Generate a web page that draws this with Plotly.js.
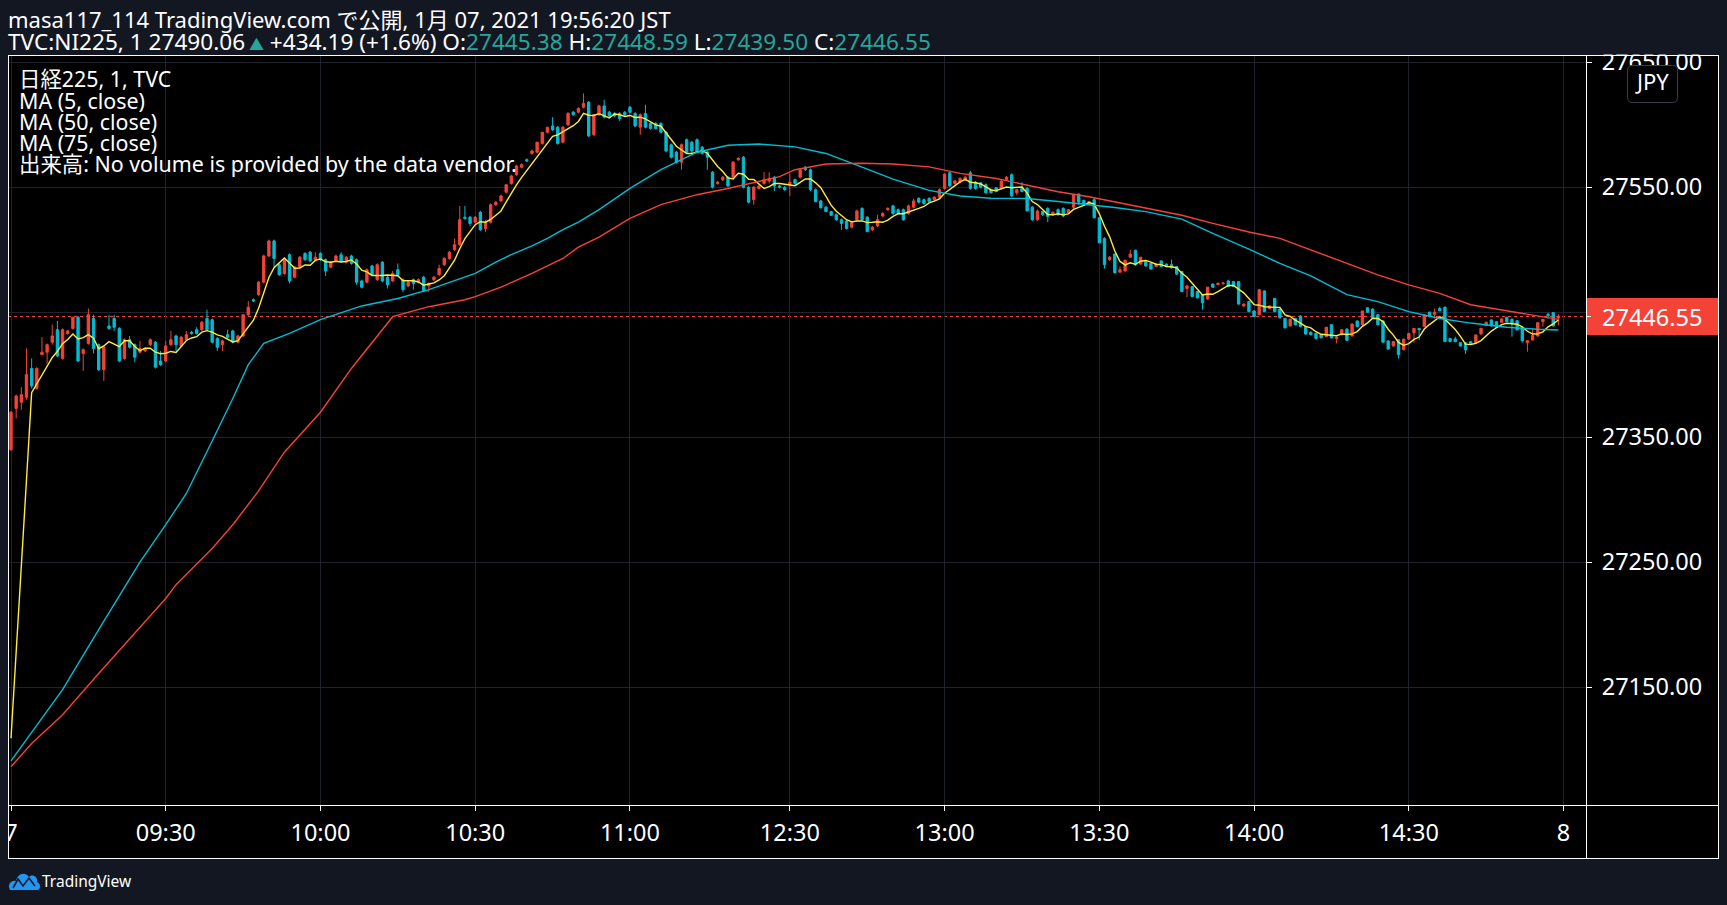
<!DOCTYPE html>
<html>
<head>
<meta charset="utf-8">
<script src="https://cdn.plot.ly/plotly-3.0.1.min.js"></script>
<style>html,body{margin:0;padding:0;background:#131722;overflow:hidden}</style>
</head>
<body>
<div id="chart" style="width:1727px;height:905px"></div>
<script>
// ---------------- DATA (1-minute bars, 日経225 TVC, 2021-01-07) ----------------
const timeTickIdx = [0, 30, 60, 90, 120, 151, 181, 211, 241, 271, 301];
const timeTickLabels = ['7', '09:30', '10:00', '10:30', '11:00', '12:30', '13:00', '13:30', '14:00', '14:30', '8'];
const priceTickVals = [27150, 27250, 27350, 27450, 27550, 27650];
const priceTickLabels = ['27150.00', '27250.00', '27350.00', '', '27550.00', '27650.00'];

const openPrices = [
27340,27373,27378,27382,27405,27389,27416,27418,27426,27436,
27413,27433,27437,27446,27417,27425,27445,27424,27404,27439,
27445,27437,27413,27428,27424,27418,27419,27424,27426,27411,
27411,27424,27431,27423,27428,27434,27436,27436,27445,27444,
27429,27424,27432,27435,27426,27431,27448,27460,27464,27474,
27495,27507,27488,27481,27496,27478,27486,27497,27498,27492,
27497,27492,27486,27491,27496,27490,27495,27492,27475,27474,
27487,27476,27490,27478,27475,27484,27476,27471,27476,27474,
27478,27471,27476,27480,27488,27493,27500,27504,27526,27526,
27522,27530,27517,27522,27536,27539,27546,27553,27560,27566,
27572,27577,27578,27585,27594,27599,27598,27586,27600,27610,
27610,27614,27618,27592,27608,27615,27610,27609,27609,27610,
27614,27609,27598,27609,27601,27601,27601,27594,27584,27578,
27570,27588,27586,27588,27582,27578,27562,27553,27556,27558,
27558,27572,27574,27550,27540,27549,27553,27555,27558,27551,
27550,27552,27556,27558,27566,27564,27548,27539,27534,27530.5,
27528,27524,27523,27518,27524,27533,27526,27516,27519,27527,
27532,27535,27532,27532,27529,27534,27541,27540,27541,27540,
27542,27549,27561.5,27553,27554,27556,27561.5,27554,27553.5,27552,
27548,27549.5,27549,27556,27560,27545.5,27549,27549,27534,27524,
27530.5,27533,27528,27532,27533,27529.5,27534,27544.5,27539.5,27537,
27540,27525.5,27509,27492,27496.5,27482,27483,27494,27499.5,27488.5,
27490.5,27489,27486.5,27491,27488.5,27488,27486.5,27482.5,27469,27470.5,
27466.5,27464,27460.5,27472.5,27472,27472.8,27475,27474.5,27474.5,27455,
27458.5,27451,27448,27467,27453,27461,27452.5,27445,27439,27445,
27447,27438.5,27434,27433,27432,27430.5,27440,27429,27432,27436.5,
27431,27443,27440,27453.5,27452.5,27448,27443,27427,27423,27428,
27420,27428.5,27433.5,27437,27438.5,27450,27448.3,27453,27454,27429,
27428.6,27425.6,27425.6,27426.4,27425.6,27432.6,27439.2,27443.8,27442.4,27441.9,
27445.9,27444.3,27443.2,27437.9,27425.6,27427.8,27431,27442.4,27448.3,27449.6,
27445.38];

const highPrices = [
27371,27384,27390,27421,27413,27406,27430,27425,27440,27443,
27437,27436,27446,27447,27421,27453,27448,27425,27423,27448,
27448,27438,27429,27431,27425,27427,27422,27429,27427,27419,
27427,27435,27432,27431,27435,27435,27438,27443,27452,27445,
27430,27428,27436,27436,27432,27448,27459,27461,27475,27496,
27508,27508,27489,27493,27497,27487,27495,27498,27499,27498,
27498,27493,27491,27496,27498,27495,27496,27493,27476,27485,
27488,27489,27491,27479,27483,27489,27477,27475,27477,27477,
27479,27474,27479,27488,27494,27499,27509,27535,27535,27527,
27527,27531,27524,27537,27539,27544,27552,27560,27568,27569,
27573,27580,27586,27594,27598,27606,27599,27599,27610,27611,
27614,27625,27619,27608,27616,27620,27611,27610,27610,27611,
27615,27610,27609,27616,27602,27602,27602,27595,27585,27579,
27585,27589,27587,27589,27583,27579,27563,27555,27559,27559,
27571,27574,27575,27551,27551,27552,27562,27562,27559,27552,
27551,27561,27557,27565,27567,27565,27549,27540,27535,27531,
27529,27525,27524,27523,27532,27534,27527,27519,27528,27530,
27534,27536,27533,27533,27536,27541,27542,27541,27542,27543,
27549,27561,27562,27556,27558,27559,27563,27555,27554,27553,
27549,27550,27555.5,27559,27561,27548.5,27554,27550,27535,27532,
27531,27534,27530.5,27533,27534,27532.5,27544,27545,27540,27539,
27541,27526,27510,27495,27497,27486.5,27492,27500,27500,27494,
27491,27489.5,27489,27491.5,27489,27492,27487,27483,27472,27471,
27467,27464.5,27470,27473,27474,27474,27476,27475,27475,27457,
27459,27451.5,27468.5,27467.5,27455.5,27461.5,27453,27445.5,27444.5,27445.5,
27447.5,27439,27434.5,27433.5,27432.5,27438,27440.5,27430.5,27436,27437,
27441,27443.5,27451,27454,27453,27448.5,27443.5,27427.5,27426.5,27428.5,
27428.5,27433.5,27437.5,27437.5,27448,27450.5,27453,27454.5,27454.5,27429.5,
27430.4,27426,27426,27427,27432,27437.5,27442.5,27444.5,27443,27445,
27446.5,27445,27443.5,27438.5,27427.5,27437.1,27441.8,27444.5,27449.6,27450,
27448.59];

const lowPrices = [
27339,27365,27372,27380,27389,27388,27416,27409,27424,27414,
27412,27432,27436,27410,27403,27424,27417,27403,27395,27436,
27435,27410,27412,27421,27410,27417,27418,27423,27405,27407,
27410,27423,27419,27422,27427,27432,27432,27435,27435,27425,
27419,27419,27429,27425,27425,27430,27447,27458,27463,27473,
27494,27486,27479,27480,27473,27477,27485,27491,27490,27491,
27491,27479,27485,27490,27490,27489,27488,27472,27469,27473,
27479,27475,27474,27469,27474,27479,27466,27470,27468,27473,
27466,27466,27475,27479,27487,27492,27499,27503,27524,27519,
27521,27515,27514,27521,27535,27538,27545,27552,27559,27565,
27570,27576,27577,27584,27593,27595,27584,27585,27599,27607,
27609,27613,27590,27591,27607,27605,27606,27606,27603,27607,
27609,27598,27592,27597,27596,27596,27593,27578,27573,27569,
27564,27577,27577,27577,27576,27564,27549,27552,27555,27550,
27557,27571,27549,27537,27536,27548,27552,27553,27547,27549,
27547,27543,27552,27557,27563,27547,27538,27533,27530,27527,
27523,27516,27516,27517,27523,27523,27514,27515,27518,27526,
27531,27528,27528,27523,27528,27533,27537,27536,27538,27539,
27541,27548,27550,27552,27553,27555,27548,27548,27549,27545,
27545,27546,27548,27555,27542,27543.5,27546,27531,27523,27523,
27527,27522,27527,27527,27526,27529,27533,27536,27535,27536,
27525,27505,27485,27491,27481,27481.5,27482.5,27493.5,27487,27488,
27486.5,27484,27486,27486,27486,27485,27480,27466,27462,27462,
27461,27452,27460,27469.5,27471.5,27472,27470,27470,27456,27454.5,
27450,27446,27447.5,27450,27452.5,27450,27445,27437,27438.5,27439.5,
27438,27432,27431.5,27428,27429,27430,27429,27425,27431.5,27427,
27430.5,27438,27439.5,27449.5,27445,27439.5,27425.5,27420,27422.5,27413,
27419.5,27428,27425.5,27427.8,27438,27446,27445,27451,27426,27426,
27426,27422.5,27416.6,27424,27425,27432,27439,27438.5,27437.5,27441.5,
27442,27430.4,27435.5,27425.6,27418.4,27427.5,27430.5,27438.4,27445.1,27438.5,
27439.50];

const closePrices = [
27370,27383,27384,27400,27391,27405,27418,27424,27431,27415,
27436,27435,27446,27411,27420,27448,27421,27404,27422,27437,
27438,27411,27428,27422,27414,27421,27421,27428,27406,27408,
27423,27428,27424,27430,27432,27433,27433,27442,27436,27426,
27422,27427,27430,27426,27431,27448,27454,27459,27474,27495,
27507,27493,27480,27492,27475,27486,27494,27492,27491,27494,
27492,27483,27490,27495,27491,27494,27489,27474,27470,27484,
27480,27488,27475,27472,27481,27480,27468,27474,27473,27476,
27467,27473,27478,27485,27493,27498,27504,27524,27525,27521,
27526,27516,27522,27536,27538,27543,27552,27559,27567,27568,
27571,27579,27586,27594,27598,27596,27585,27598,27609,27608,
27613,27617,27591,27608,27615,27606,27607,27607,27605,27608,
27610,27599,27608,27598,27597,27597,27594,27579,27574,27570,
27584,27578,27579,27578,27577,27574,27550,27554,27558,27551,
27570,27573,27550,27538,27550,27551,27556,27557,27551,27550,
27548,27554,27553,27564,27564,27548,27538.5,27533.5,27530.5,27527.5,
27524,27521,27517,27522,27531,27524,27514.5,27518,27524,27529,
27533,27529,27529,27524,27535,27539,27538,27537,27538.5,27542,
27548,27560.5,27551,27555,27557,27558,27549,27549,27550,27545.5,
27545.5,27546.5,27555,27558,27543,27548,27546.5,27531,27524,27531,
27528,27526.5,27530,27528,27527,27532,27544,27538,27536,27538.5,
27525.5,27505.5,27488,27494,27481.5,27484,27491.5,27496.5,27488,27494,
27487,27484.5,27488.5,27486.5,27486.5,27485.5,27480.5,27466.5,27471,27462.5,
27461.5,27457.5,27470,27470,27473,27473.3,27470.5,27470.5,27456.5,27456.5,
27450.5,27446.5,27468,27450.5,27455,27450.5,27445.5,27437.5,27444.5,27440,
27438.5,27432.5,27432,27429,27429.5,27438,27429.5,27430,27436,27427.5,
27440.5,27438.5,27451,27450,27445.5,27440,27426,27420.5,27426.5,27416,
27428.5,27433,27437,27436,27448,27446.5,27450,27451.2,27426.5,27426.5,
27426.4,27423,27419.8,27424.6,27431.8,27437.1,27441.9,27439,27437.9,27444.6,
27442.4,27441.1,27435.8,27427.2,27427.2,27431.3,27441.6,27444.3,27447.2,27439,
27446.55];

// closes of the last minutes of the previous session (used by MA 5 at the open)
const prevDayCloses = [27050, 27040, 27045, 27041];

// MA (50, close) and MA (75, close) at bar positions
const ma50Idx = [0,10,17,25,30,34,39,43,46,49,54,60,68,75,81,87,90,94,97,101,104,107,110,114,120,126,133,139,145,152,158,165,171,178,184,190,197,203,209,214,220,227,233,240,246,252,259,262,265,271,277,283,290,296,300];
const ma50Val = [27091,27148,27196,27250,27280,27305,27347,27381,27408,27425,27433,27444,27455,27461,27468,27477,27481,27490,27496,27503,27509,27516,27522,27532,27549,27564,27578,27583.5,27584.5,27582.3,27577,27566,27556.5,27547.5,27543,27541.2,27541,27538.5,27536,27533.8,27530.5,27524.5,27513,27500.5,27489,27479,27464,27461,27458.5,27450.5,27445,27441.3,27438,27436.3,27435.8];
const ma75Idx = [0,4,10,17,30,32,39,43,48,53,60,66,74,79,81,88,90,95,101,107,110,114,120,126,133,139,146,149,152,158,165,171,178,184,191,197,203,209,214,220,227,233,240,246,252,259,265,271,277,283,290,296,300];
const ma75Val = [27086.4,27105,27128,27161,27221,27232,27261,27280,27307,27338,27370,27405,27446.4,27452,27454.4,27460,27462.4,27470,27481,27493,27502,27510,27525,27536,27544,27549,27556,27558.4,27564,27568.6,27569.1,27568.6,27566.3,27561.1,27557,27551.8,27546.4,27542.4,27538.3,27533.1,27527.6,27521.1,27514.2,27509.1,27500,27489.1,27479.8,27471.8,27465.1,27456,27451.2,27447,27444.3];

const lastPrice = closePrices[closePrices.length - 1];

// ---------------- STYLE / GEOMETRY ----------------
const FONT = "'Noto Sans', 'Noto Sans CJK JP', sans-serif";
const BG = '#131722', PANEL = '#000000', GRID = '#1f232d';
const UP = '#f44336', DOWN = '#00bcd4', MA5C = '#ffeb3b', MA50C = '#00bcd4', MA75C = '#f44336';
const TEAL = '#26a69a';
const W = 1727, H = 905, PL = 8, PR = 1586, PT = 55, PB = 805, OR = 1718, OB = 858;
const px = x => (x - PL) / (PR - PL);
const py = y => (PB - y) / (PB - PT);
const P = (x, y) => px(x) + ',' + py(y);

const barIdx = closePrices.map((_, i) => i);
const allCloses = prevDayCloses.concat(closePrices);
const ma5 = closePrices.map((_, i) => {
  let s = 0;
  for (let k = i; k < i + 5; k++) s += allCloses[k];
  return s / 5;
});

function roundRect(x0, y0, x1, y1, r) {
  return `M${P(x0 + r, y0)} L${P(x1 - r, y0)} Q${P(x1, y0)} ${P(x1, y0 + r)} L${P(x1, y1 - r)} Q${P(x1, y1)} ${P(x1 - r, y1)} L${P(x0 + r, y1)} Q${P(x0, y1)} ${P(x0, y1 - r)} L${P(x0, y0 + r)} Q${P(x0, y0)} ${P(x0 + r, y0)} Z`;
}
function hline(y, x0, x1) {
  return {type: 'line', xref: 'paper', yref: 'paper', x0: px(x0), x1: px(x1), y0: py(y), y1: py(y), line: {color: '#ffffff', width: 1}, layer: 'above'};
}
function vline(x, y0, y1) {
  return {type: 'line', xref: 'paper', yref: 'paper', x0: px(x), x1: px(x), y0: py(y0), y1: py(y1), line: {color: '#ffffff', width: 1}, layer: 'above'};
}

const traces = [
  {
    type: 'candlestick', x: barIdx, open: openPrices, high: highPrices, low: lowPrices, close: closePrices,
    increasing: {line: {color: UP, width: 1}, fillcolor: UP},
    decreasing: {line: {color: DOWN, width: 1}, fillcolor: DOWN},
    whiskerwidth: 0, hoverinfo: 'none', showlegend: false
  },
  {type: 'scatter', mode: 'lines', x: barIdx, y: ma5, line: {color: MA5C, width: 1.4}, hoverinfo: 'none', showlegend: false},
  {type: 'scatter', mode: 'lines', x: ma50Idx, y: ma50Val, line: {color: MA50C, width: 1.4}, hoverinfo: 'none', showlegend: false},
  {type: 'scatter', mode: 'lines', x: ma75Idx, y: ma75Val, line: {color: MA75C, width: 1.4}, hoverinfo: 'none', showlegend: false}
];

const teal = t => `<span style="color:${TEAL}">${t}</span>`;
const fmt = v => v.toFixed(2);
const header1 = 'masa117_114 TradingView.com で公開, 1月 07, 2021 19:56:20 JST';
const header2 = 'TVC:NI225, 1 27490.06<span style="color:' + TEAL + ';font-size:15px"> ▲</span> +434.19 (+1.6%) O:' + teal(fmt(openPrices[300])) +
  ' H:' + teal(fmt(highPrices[300])) + ' L:' + teal(fmt(lowPrices[300])) + ' C:' + teal(fmt(closePrices[300]));
const legendLines = ['日経225, 1, TVC', 'MA (5, close)', 'MA (50, close)', 'MA (75, close)', '出来高: No volume is provided by the data vendor.'];
const legendY = [78, 100, 121, 142, 163];

const annotations = [
  {xref: 'paper', yref: 'paper', x: 0, y: 1, xanchor: 'left', yanchor: 'middle', xshift: -1, yshift: PT - 19, text: header1, showarrow: false, borderpad: 0, font: {family: FONT, size: 22, color: '#ffffff'}},
  {xref: 'paper', yref: 'paper', x: 0, y: 1, xanchor: 'left', yanchor: 'middle', xshift: -1, yshift: PT - 41, text: header2, showarrow: false, borderpad: 0, font: {family: FONT, size: 22.6, color: '#ffffff'}},
  {xref: 'paper', yref: 'paper', x: px(1652.5), y: py(81), xanchor: 'center', yanchor: 'middle', text: 'JPY', showarrow: false, font: {family: FONT, size: 22, color: '#ffffff'}},
  {xref: 'paper', yref: 'y', x: px(1602), y: lastPrice, xanchor: 'left', yanchor: 'middle', xshift: -2, text: fmt(lastPrice), showarrow: false, font: {family: FONT, size: 23.5, color: '#ffffff'}},
  {xref: 'paper', yref: 'paper', x: px(42), y: py(881), xanchor: 'left', yanchor: 'middle', xshift: -2, text: 'TradingView', showarrow: false, font: {family: FONT, size: 15.5, color: '#ffffff'}}
];
legendLines.forEach((t, i) => annotations.push({
  xref: 'paper', yref: 'paper', x: 0, y: 1, xanchor: 'left', yanchor: 'middle', xshift: 10, yshift: PT - legendY[i],
  text: t, showarrow: false, borderpad: 0, font: {family: FONT, size: 21.4, color: '#ffffff'}
}));

const shapes = [
  {type: 'rect', xref: 'paper', yref: 'paper', x0: px(PL), x1: px(OR), y0: py(OB), y1: py(PT), fillcolor: PANEL, line: {width: 0}, layer: 'below'},
  {type: 'line', xref: 'paper', yref: 'y', x0: 0, x1: 1, y0: lastPrice, y1: lastPrice, line: {color: UP, width: 1, dash: 'dot'}, layer: 'below'},
  // covers for text overflowing the chart panel
  {type: 'rect', xref: 'paper', yref: 'paper', x0: px(PR), x1: px(W), y0: py(PT - 0.5), y1: py(0), fillcolor: BG, line: {width: 0}, layer: 'above'},
  {type: 'rect', xref: 'paper', yref: 'paper', x0: px(0), x1: px(PL), y0: py(OB), y1: py(PB), fillcolor: BG, line: {width: 0}, layer: 'above'},
  // last price box + tick
  {type: 'rect', xref: 'paper', yref: 'y', x0: 1, x1: px(OR), ysizemode: 'pixel', yanchor: lastPrice, y0: -18.5, y1: 18.5, fillcolor: UP, line: {width: 0}, layer: 'above'},
  {type: 'line', xref: 'paper', yref: 'y', x0: 1, x1: px(PR + 5), y0: lastPrice, y1: lastPrice, line: {color: '#ffffff', width: 1}, layer: 'above'},
  // borders
  hline(PT + 0.5, PL, OR + 1), hline(PB + 0.5, PL, OR + 1), hline(OB + 0.5, PL, OR + 1),
  vline(PL + 0.5, PT, OB + 1), vline(PR + 0.5, PT, OB + 1), vline(OR + 0.5, PT, OB + 1),
  // JPY badge
  {type: 'path', xref: 'paper', yref: 'paper', path: roundRect(1627.5, 65.5, 1677.5, 102.5, 5), fillcolor: PANEL, line: {color: '#3a3e4a', width: 1}, layer: 'above'},
  // TradingView logo cloud
  {type: 'path', xref: 'paper', yref: 'paper', fillcolor: '#2196f3', line: {width: 0}, layer: 'above',
   path: `M${P(10, 890)} C${P(7, 885)} ${P(11, 880)} ${P(16, 881)} C${P(17, 874)} ${P(25, 871)} ${P(29, 877)} C${P(32, 874)} ${P(38, 876)} ${P(37, 882)} C${P(41, 883)} ${P(41, 890)} ${P(37, 890)} Z`},
  {type: 'path', xref: 'paper', yref: 'paper', line: {color: BG, width: 1.6}, layer: 'above',
   path: `M${P(13, 888)} L${P(18, 879)} L${P(23, 886)} L${P(29, 878)} L${P(35, 886)}`}
];

const layout = {
  width: W, height: H,
  paper_bgcolor: BG, plot_bgcolor: PANEL,
  margin: {l: PL, r: W - PR, t: PT, b: H - PB, pad: 0},
  showlegend: false, boxgap: 0.35, hovermode: false,
  font: {family: FONT, color: '#ffffff'},
  xaxis: {
    range: [(PL - 11) / 5.158, (PR - 11) / 5.158],
    tickmode: 'array', tickvals: timeTickIdx, ticktext: timeTickLabels,
    showgrid: true, gridcolor: GRID, gridwidth: 1, zeroline: false, showline: false,
    ticks: 'outside', ticklen: 5, tickwidth: 1, tickcolor: '#ffffff', ticklabelstandoff: 2,
    tickfont: {family: FONT, size: 23.5, color: '#ffffff'},
    rangeslider: {visible: false}, fixedrange: true
  },
  yaxis: {
    range: [27055.76, 27655.76], side: 'right',
    tickmode: 'array', tickvals: priceTickVals, ticktext: priceTickLabels,
    showgrid: true, gridcolor: GRID, gridwidth: 1, zeroline: false, showline: false,
    ticks: 'outside', ticklen: 5, tickwidth: 1, tickcolor: '#ffffff', ticklabelstandoff: 5,
    tickfont: {family: FONT, size: 23.5, color: '#ffffff'},
    fixedrange: true
  },
  shapes: shapes,
  annotations: annotations
};

Plotly.newPlot('chart', traces, layout, {staticPlot: true, displayModeBar: false});
</script>
</body>
</html>
